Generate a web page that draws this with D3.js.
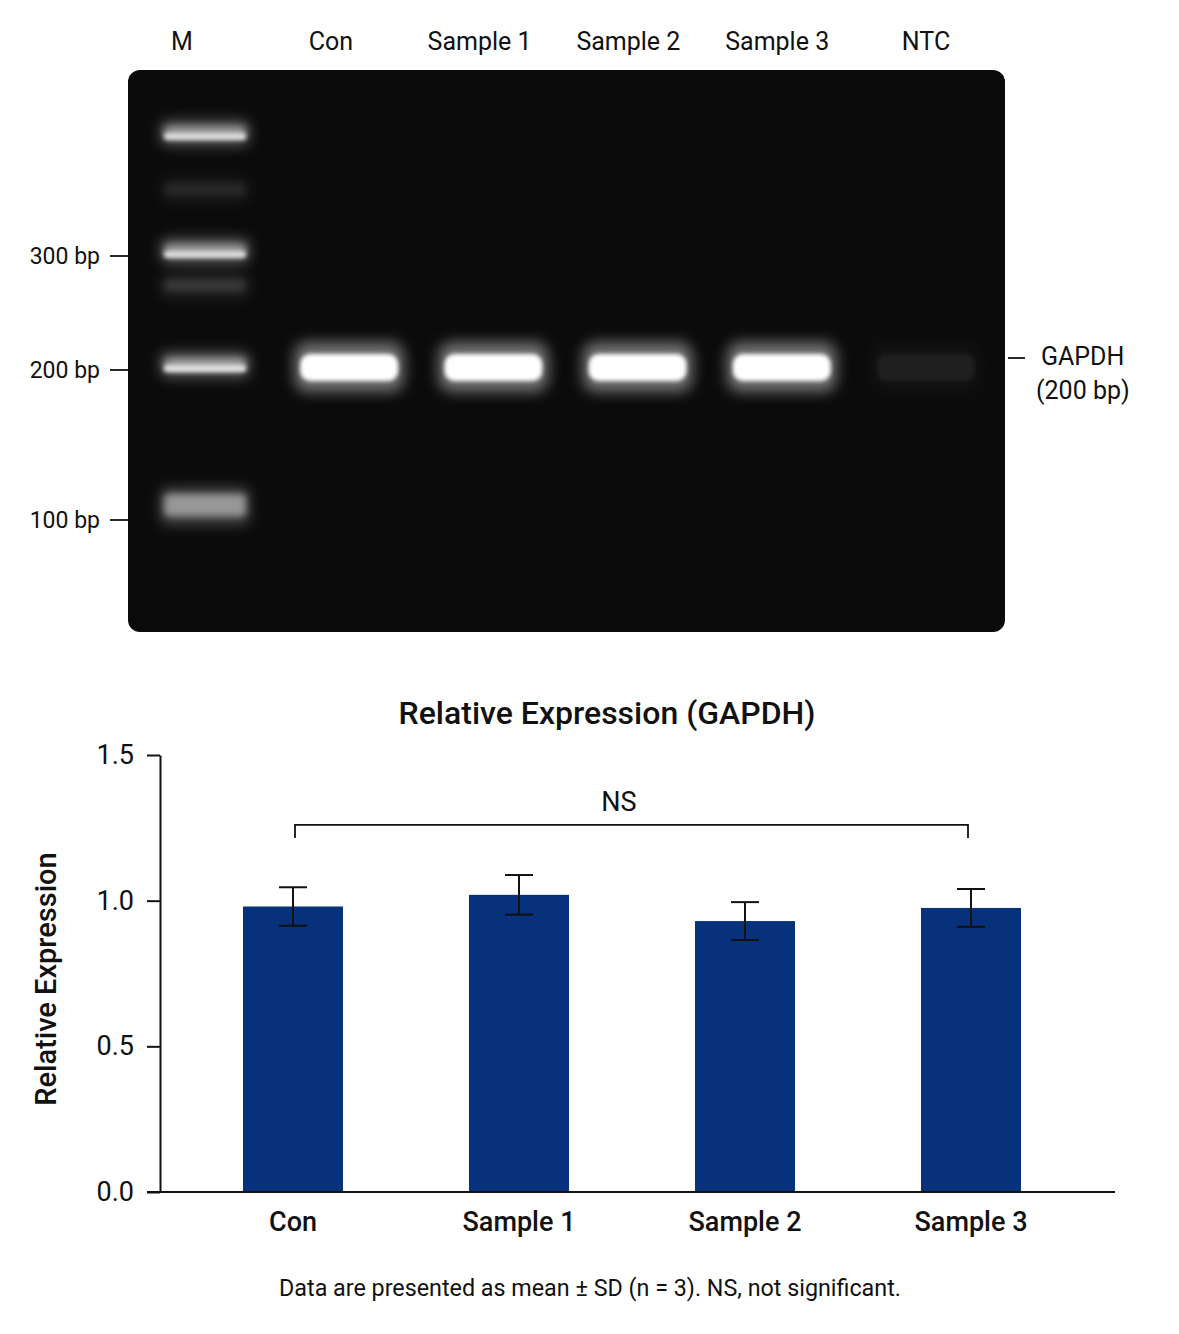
<!DOCTYPE html>
<html>
<head>
<meta charset="utf-8">
<script src="https://cdn.jsdelivr.net/npm/d3@7"></script>
<style>
  html, body { margin: 0; padding: 0; background: #fff; }
  svg { display: block; font-family: Roboto, "Liberation Sans", sans-serif; }
</style>
</head>
<body>
<svg id="chart" width="1179" height="1334"></svg>
<script>
// ---------- Gel data ----------
const gelLanes = ["M", "Con", "Sample 1", "Sample 2", "Sample 3", "NTC"];
const ladderBp = [500, 400, 300, 250, 200, 100];
const ladderIntensity = [0.9, 0.16, 0.9, 0.25, 0.95, 0.7];
const sampleLanes = ["Con", "Sample 1", "Sample 2", "Sample 3", "NTC"];
const sampleBandBp = [200, 200, 200, 200, 200];
const sampleBandIntensity = [1, 1, 1, 1, 0.06];
const bpTicks = [300, 200, 100];
const bpTickLabels = ["300 bp", "200 bp", "100 bp"];

// ---------- Bar chart data ----------
const categories = ["Con", "Sample 1", "Sample 2", "Sample 3"];
const means = [0.98, 1.02, 0.93, 0.975];
const sds = [0.066, 0.068, 0.065, 0.065];
const yTicks = [0.0, 0.5, 1.0, 1.5];
const yTickLabels = ["0.0", "0.5", "1.0", "1.5"];

const svg = d3.select("#chart");
const defs = svg.append("defs");

function blurFilter(id, sd) {
  defs.append("filter").attr("id", id)
    .attr("x", "-50%").attr("y", "-300%").attr("width", "200%").attr("height", "700%")
    .append("feGaussianBlur").attr("stdDeviation", sd);
}
blurFilter("haze", 7);
blurFilter("core", 2.2);
blurFilter("soft", 3.5);

// ---------- Gel ----------
const gel = { x: 128, y: 70, w: 877, h: 562 };
svg.append("rect")
  .attr("x", gel.x).attr("y", gel.y).attr("width", gel.w).attr("height", gel.h)
  .attr("rx", 12).attr("fill", "#0b0b0b");

const labelX = d3.scalePoint().domain(gelLanes).range([182, 926]);
const laneX = d3.scalePoint().domain(gelLanes).range([205, 926]);
const bpY = d3.scaleLinear().domain([100, 200, 250, 300, 400, 500]).range([518, 368, 289, 254, 193, 136]);

// lane labels
svg.append("g").selectAll("text").data(gelLanes).join("text")
  .attr("x", d => labelX(d)).attr("y", 50)
  .attr("text-anchor", "middle").attr("font-size", 25).attr("fill", "#111")
  .text(d => d);

// ladder bands
const ladderData = ladderBp.map((bp, i) => ({ bp, k: ladderIntensity[i], thick: bp === 100 }));
const bandY = d => bpY(d.bp) - (d.thick ? 13 : 0);
const lg = svg.append("g");
lg.selectAll("rect.halo").data(ladderData).join("rect")
  .attr("class", "halo")
  .attr("x", laneX("M") - 44).attr("width", 88)
  .attr("y", d => bandY(d) - (d.thick ? 17 : 15))
  .attr("height", d => d.thick ? 36 : 24)
  .attr("rx", 6)
  .attr("fill", "#ffffff").attr("opacity", d => d.k * 0.38)
  .attr("filter", "url(#haze)");
lg.selectAll("rect.smear").data(ladderData).join("rect")
  .attr("class", "smear")
  .attr("x", laneX("M") - 41).attr("width", 82)
  .attr("y", d => bandY(d) - (d.thick ? 11 : 10))
  .attr("height", d => d.thick ? 22 : 12)
  .attr("rx", 4)
  .attr("fill", "#ffffff").attr("opacity", d => d.k * (d.thick ? 0.6 : 0.4))
  .attr("filter", "url(#soft)");
lg.selectAll("rect.core").data(ladderData.filter(d => !d.thick && d.k > 0.5)).join("rect")
  .attr("class", "core")
  .attr("x", laneX("M") - 41).attr("width", 82)
  .attr("y", d => bandY(d) - 3)
  .attr("height", 7)
  .attr("rx", 3)
  .attr("fill", "#eeeeee").attr("opacity", d => d.k * 0.95)
  .attr("filter", "url(#core)");

// sample bands
const sampleData = sampleLanes.map((l, i) => ({ lane: l, bp: sampleBandBp[i], k: sampleBandIntensity[i] }));
const sg = svg.append("g");
sg.selectAll("rect.halo").data(sampleData).join("rect")
  .attr("class", "halo")
  .attr("x", d => laneX(d.lane) - 55).attr("width", 110)
  .attr("y", d => bpY(d.bp) - 26).attr("height", 50)
  .attr("rx", 14)
  .attr("fill", "#ffffff").attr("opacity", d => d.k * 0.42)
  .attr("filter", "url(#haze)");
sg.selectAll("rect.core").data(sampleData).join("rect")
  .attr("class", "core")
  .attr("x", d => laneX(d.lane) - 49).attr("width", 98)
  .attr("y", d => bpY(d.bp) - 14).attr("height", 27)
  .attr("rx", 10)
  .attr("fill", "#ffffff").attr("opacity", d => d.k)
  .attr("filter", "url(#core)");

// bp tick marks
const bpAxis = svg.append("g");
bpAxis.selectAll("line").data(bpTicks).join("line")
  .attr("x1", 110).attr("x2", gel.x)
  .attr("y1", d => bpY(d) + 2).attr("y2", d => bpY(d) + 2)
  .attr("stroke", "#111").attr("stroke-width", 1.8);
bpAxis.selectAll("text").data(bpTicks).join("text")
  .attr("x", 100).attr("y", d => bpY(d) + 2)
  .attr("dy", "0.35em").attr("text-anchor", "end")
  .attr("font-size", 23).attr("fill", "#111")
  .text((d, i) => bpTickLabels[i]);

// GAPDH marker
svg.append("line")
  .attr("x1", gel.x + gel.w + 3).attr("x2", 1025)
  .attr("y1", bpY(200) - 10).attr("y2", bpY(200) - 10)
  .attr("stroke", "#111").attr("stroke-width", 1.8);
svg.append("text").attr("x", 1041).attr("y", bpY(200) - 3)
  .attr("font-size", 25).attr("fill", "#111").text("GAPDH");
svg.append("text").attr("x", 1036).attr("y", bpY(200) + 31)
  .attr("font-size", 25).attr("fill", "#111").text("(200 bp)");

// ---------- Bar chart ----------
const x = d3.scaleBand().domain(categories).range([130, 1134]).paddingInner(0.5575).paddingOuter(0.5);
const y = d3.scaleLinear().domain([0, 1.5]).range([1192, 755]);

svg.append("text")
  .attr("x", 607).attr("y", 724)
  .attr("text-anchor", "middle").attr("font-size", 32).attr("font-weight", 500).attr("fill", "#111")
  .text("Relative Expression (GAPDH)");

// bars
svg.append("g").selectAll("rect").data(categories).join("rect")
  .attr("x", d => x(d)).attr("width", x.bandwidth())
  .attr("y", (d, i) => y(means[i]))
  .attr("height", (d, i) => y(0) - y(means[i]))
  .attr("fill", "#07317a");

// error bars
const eg = svg.append("g").attr("stroke", "#111").attr("stroke-width", 2);
categories.forEach((c, i) => {
  const cx = x(c) + x.bandwidth() / 2;
  const top = y(means[i] + sds[i]), bot = y(means[i] - sds[i]);
  eg.append("line").attr("x1", cx).attr("x2", cx).attr("y1", top).attr("y2", bot);
  eg.append("line").attr("x1", cx - 14).attr("x2", cx + 14).attr("y1", top).attr("y2", top);
  eg.append("line").attr("x1", cx - 14).attr("x2", cx + 14).attr("y1", bot).attr("y2", bot);
});

// y axis
const yAxis = svg.append("g").attr("transform", "translate(160,0)")
  .call(d3.axisLeft(y).tickValues(yTicks).tickFormat((d, i) => yTickLabels[i]).tickSize(13).tickSizeOuter(0).tickPadding(13));
yAxis.select(".domain").attr("stroke", "#111").attr("stroke-width", 2);
yAxis.selectAll(".tick line").attr("stroke", "#111").attr("stroke-width", 2);
yAxis.selectAll(".tick text").attr("font-size", 27).attr("fill", "#111").attr("font-family", "Roboto, sans-serif");

// x axis
const xAxis = svg.append("g").attr("transform", `translate(0,${y(0)})`)
  .call(d3.axisBottom(x).tickSize(0).tickPadding(20).tickSizeOuter(0));
xAxis.select(".domain").remove();
xAxis.append("line").attr("x1", 147).attr("x2", 1115).attr("y1", 0).attr("y2", 0)
  .attr("stroke", "#111").attr("stroke-width", 2);
xAxis.selectAll(".tick text").attr("font-size", 27).attr("fill", "#111").attr("font-family", "Roboto, sans-serif").attr("font-weight", 500);

// y label
svg.append("text")
  .attr("transform", "translate(56,979) rotate(-90)")
  .attr("text-anchor", "middle").attr("font-size", 29).attr("font-weight", 500).attr("fill", "#111")
  .text("Relative Expression");

// NS bracket
const bx1 = x("Con") + x.bandwidth() / 2 + 2, bx2 = x("Sample 3") + x.bandwidth() / 2 - 3;
const byy = y(1.26);
svg.append("path")
  .attr("d", `M${bx1},${byy + 13}V${byy}H${bx2}V${byy + 13}`)
  .attr("fill", "none").attr("stroke", "#111").attr("stroke-width", 1.8);
svg.append("text").attr("x", 619).attr("y", byy - 14)
  .attr("text-anchor", "middle").attr("font-size", 27).attr("fill", "#111").text("NS");

// footnote
svg.append("text").attr("x", 590).attr("y", 1296)
  .attr("text-anchor", "middle").attr("font-size", 23.3).attr("fill", "#111")
  .text("Data are presented as mean ± SD (n = 3). NS, not significant.");
</script>
</body>
</html>
